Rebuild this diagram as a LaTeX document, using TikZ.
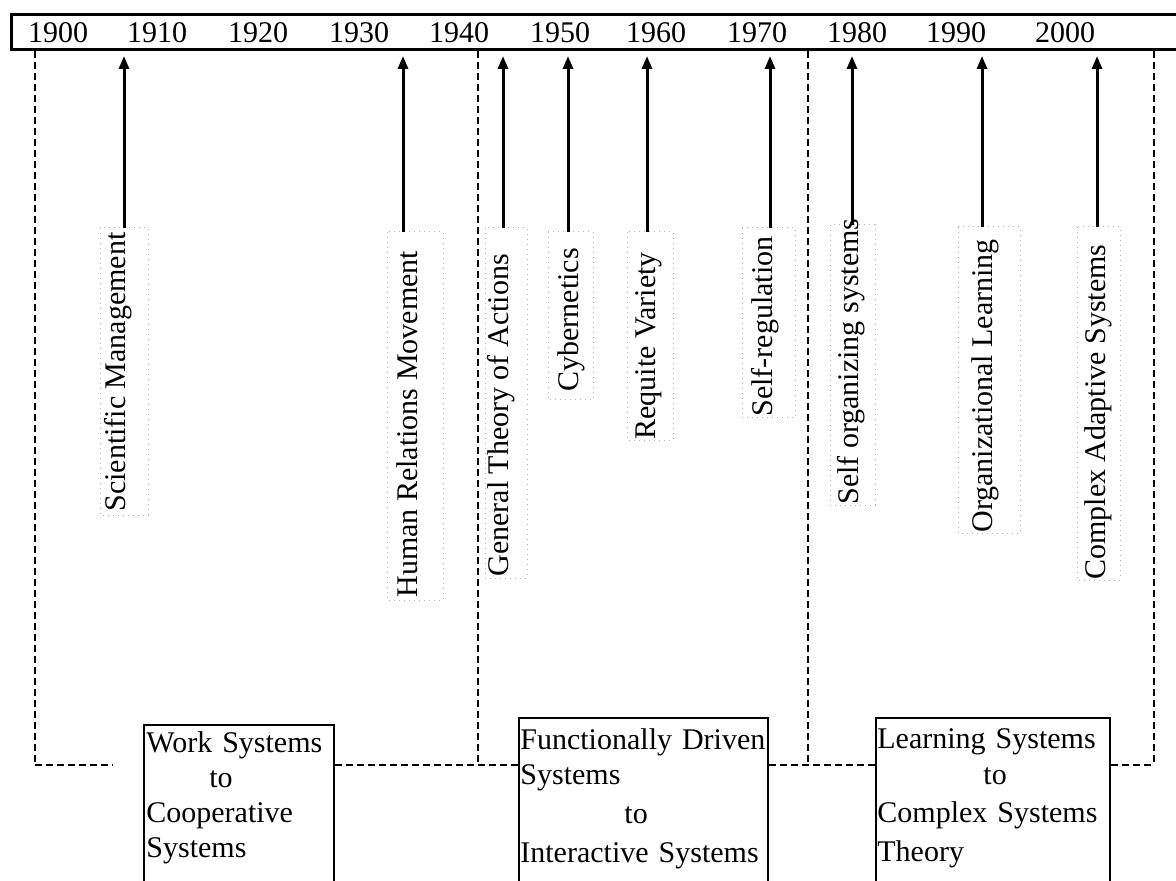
\documentclass[tikz,border=0pt]{standalone}
\usepackage{fontspec}
\setmainfont{Liberation Serif}
\usetikzlibrary{arrows.meta}

\begin{document}
\begin{tikzpicture}[x=0.5pt,y=-0.5pt,
  font=\fontsize{15}{17.5}\selectfont,
  yearlbl/.style={anchor=base, inner sep=0pt},
  era/.style={line width=1pt, dash pattern=on 3.5pt off 2pt},
  milestone/.style={line width=1.5pt, -{Triangle[length=6.5pt,width=5pt]}, shorten >=2.5pt},
  topic/.style={rotate=90, anchor=base west, inner sep=0pt},
  topicframe/.style={draw=black!30, line width=0.5pt, dotted},
  sysbox/.style={draw, line width=0.8pt, anchor=north west, inner sep=0pt, minimum height=100pt},
  systext/.style={anchor=base west, inner sep=0pt, align=left, text width=150pt},
]
\useasboundingbox (0,0) rectangle (1176,881);

% time axis
\node[draw, line width=1.5pt, anchor=north west, inner sep=0pt,
      minimum width=600pt, minimum height=17.5pt] (bar) at (10,13) {};
\foreach \yr/\cx in {1900/58,1910/157,1920/258,1930/359,1940/459,1950/560,
                     1960/656,1970/757,1980/857,1990/956,2000/1065}
  \node[yearlbl] (y\yr) at (\cx,43) {\yr};

% milestones: label, faint frame, arrow up to the axis
\foreach \n/\bx/\by/\ax/\fx/\fy/\gx/\gy/\txt in {
  1/125/512/124/100/228/148/515/Scientific Management,
  2/417/598/403/387/232/443/600/Human Relations Movement,
  3/508/577/503/485/228/527/578/General Theory of Actions,
  4/578/392/568/548/232/593/400/Cybernetics,
  5/655/440/647/627/232/673/440/Requite Variety,
  6/772/417/770/742/228/795/418/Self-regulation,
  7/858/505/852/830/225/875/505/Self organizing systems,
  8/992/533/982/958/227/1020/533/Organizational Learning,
  9/1105/580/1097/1077/227/1120/580/Complex Adaptive Systems}
{
  \draw[topicframe] (\fx,\fy) rectangle (\gx,\gy);
  \node[topic] (m\n) at (\bx,\by) {\txt};
  \coordinate (a\n) at (\ax,\fy);
  \draw[milestone] (a\n) -- (a\n |- bar.south);
}

% era boxes
\node[sysbox, minimum width=95pt] (s1) at (143,724) {};
\node[sysbox, minimum width=124.5pt] (s2) at (518,717) {};
\node[sysbox, minimum width=117pt] (s3) at (875,717) {};

\node[systext] (t1) at (146,752)
  {Work Systems\\\hspace*{31.5pt}to\\Cooperative\\Systems};
\node[systext] (t2) at (520,749)
  {Functionally Driven\\Systems\\[2pt]\hspace*{52pt}to\\[2pt]Interactive Systems};
\node[systext] (t3) at (877,748)
  {Learning Systems\\[0.5pt]\hspace*{53pt}to\\[1.5pt]Complex Systems\\[2pt]Theory};

% era boundaries
\coordinate (e0) at (35,765);
\coordinate (e0end) at (113,765);
\coordinate (e1) at (478,765);
\coordinate (e2) at (808,765);
\coordinate (e3) at (1154,765);
\foreach \e in {e0,e1,e2,e3}
  \draw[era] (\e |- bar.south) -- (\e);
\draw[era] (e0) -- (e0end);
\draw[era] (s1.east |- e0) -- (s2.west |- e0);
\draw[era] (s2.east |- e0) -- (s3.west |- e0);
\draw[era] (s3.east |- e0) -- (e3);
\end{tikzpicture}
\end{document}
